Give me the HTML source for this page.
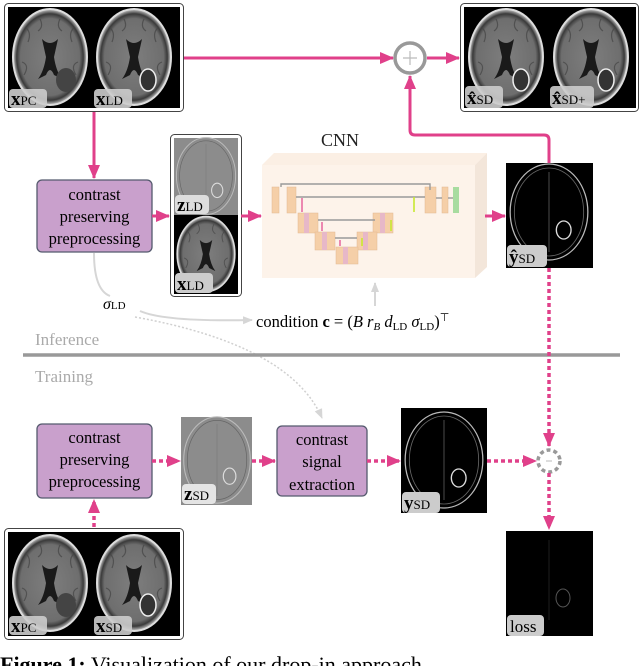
<!DOCTYPE html>
<html><head><meta charset="utf-8"><style>
html,body{margin:0;padding:0;background:#fff;width:640px;height:666px;overflow:hidden}
svg{display:block}
text{font-family:"Liberation Serif",serif}
</style></head><body>
<svg width="640" height="666" viewBox="0 0 640 666" xmlns="http://www.w3.org/2000/svg">
<defs>
<radialGradient id="bg" cx="50%" cy="50%" r="50%">
<stop offset="0" stop-color="#7e7e7e"/><stop offset="0.8" stop-color="#6e6e6e"/><stop offset="0.9" stop-color="#3a3a3a"/><stop offset="1" stop-color="#cfcfcf"/>
</radialGradient>
<g id="brain">
<ellipse cx="0" cy="0" rx="37" ry="48" fill="url(#bg)" stroke="#ddd" stroke-width="2"/>
<g stroke="#444" stroke-width="1.2" fill="none" opacity="0.7">
<path d="M-25,-30 Q-18,-25 -22,-15"/><path d="M25,-30 Q18,-25 22,-15"/><path d="M-28,5 Q-20,8 -26,18"/><path d="M28,5 Q20,8 26,18"/><path d="M-10,-38 Q-6,-30 -12,-26"/><path d="M10,-38 Q6,-30 12,-26"/>
</g>
<path d="M-8,-18 Q0,-10 8,-18 L4,0 Q6,14 12,22 L4,18 Q0,8 -4,18 L-12,22 Q-6,14 -4,0 Z" fill="#1a1a1a"/>
</g>
<g id="brainD">
<ellipse cx="0" cy="0" rx="37" ry="48" fill="none" stroke="#bbb" stroke-width="1.2"/>
<ellipse cx="0" cy="0" rx="33" ry="44" fill="none" stroke="#666" stroke-width="0.8"/>
<path d="M0,-40 L0,40" stroke="#777" stroke-width="0.6"/>
<ellipse cx="14" cy="18" rx="7" ry="9" fill="none" stroke="#ddd" stroke-width="1.3"/>
</g>
<marker id="ahp" markerWidth="14" markerHeight="12" refX="13" refY="6" orient="auto" markerUnits="userSpaceOnUse">
<path d="M0,0 L14,6 L0,12 Z" fill="#e0408a"/></marker>
<marker id="ahg" markerWidth="10" markerHeight="10" refX="9" refY="5" orient="auto" markerUnits="userSpaceOnUse">
<path d="M0,1 L10,5 L0,9 Z" fill="#d6d6d6"/></marker>
</defs>

<!-- top-left panel -->
<rect x="4.5" y="3.5" width="179" height="108" rx="4" fill="#fff" stroke="#444"/>
<rect x="8" y="7" width="172" height="101" fill="#000"/>
<use href="#brain" x="50" y="57"/>
<use href="#brain" x="134" y="57"/>
<ellipse cx="66" cy="80" rx="10" ry="12" fill="#444"/>
<ellipse cx="148" cy="80" rx="8" ry="11" fill="#333" stroke="#eee" stroke-width="1.5"/>
<rect x="9" y="89" width="38" height="19" rx="4" fill="#ccc" opacity="0.9"/>
<text x="11" y="105" font-size="19" font-weight="bold">x<tspan font-size="13" font-weight="normal">PC</tspan></text>
<rect x="94" y="89" width="38" height="19" rx="4" fill="#ccc" opacity="0.9"/>
<text x="96" y="105" font-size="19" font-weight="bold">x<tspan font-size="13" font-weight="normal">LD</tspan></text>

<!-- top-right panel -->
<rect x="460.5" y="3.5" width="178" height="108" rx="4" fill="#fff" stroke="#444"/>
<rect x="464" y="7" width="172" height="101" fill="#000"/>
<use href="#brain" x="506" y="57"/>
<use href="#brain" x="591" y="57"/>
<ellipse cx="521" cy="80" rx="8" ry="11" fill="#333" stroke="#eee" stroke-width="1.5"/>
<ellipse cx="606" cy="80" rx="8" ry="11" fill="#333" stroke="#eee" stroke-width="1.5"/>
<rect x="465" y="86" width="38" height="22" rx="4" fill="#ccc" opacity="0.9"/>
<text x="467" y="104" font-size="19" font-weight="bold">x̂<tspan font-size="13" font-weight="normal">SD</tspan></text>
<rect x="550" y="86" width="44" height="22" rx="4" fill="#ccc" opacity="0.9"/>
<text x="552" y="104" font-size="19" font-weight="bold">x̂<tspan font-size="13" font-weight="normal">SD+</tspan></text>

<!-- plus circle -->
<circle cx="410" cy="58" r="15" fill="#fff" stroke="#999" stroke-width="3.5"/>
<path d="M403,58 H417 M410,51 V65" stroke="#bbb" stroke-width="1.2"/>
<line x1="184" y1="58" x2="393" y2="58" stroke="#e0408a" stroke-width="3" marker-end="url(#ahp)"/>
<line x1="427" y1="58" x2="459" y2="58" stroke="#e0408a" stroke-width="3" marker-end="url(#ahp)"/>
<path d="M549,163 V140 Q549,135 544,135 H415 Q410,135 410,130 V76" fill="none" stroke="#e0408a" stroke-width="3" marker-end="url(#ahp)"/>
<line x1="94" y1="112" x2="94" y2="178" stroke="#e0408a" stroke-width="3" marker-end="url(#ahp)"/>

<!-- box1 -->
<rect x="37" y="180" width="115" height="72" rx="5" fill="#c9a0cc" stroke="#555a6e" stroke-width="1.3"/>
<text x="94.5" y="200" font-size="16.5" text-anchor="middle">contrast</text>
<text x="94.5" y="222" font-size="16.5" text-anchor="middle">preserving</text>
<text x="94.5" y="244" font-size="16.5" text-anchor="middle">preprocessing</text>
<line x1="152" y1="216" x2="169" y2="216" stroke="#e0408a" stroke-width="3" marker-end="url(#ahp)"/>

<!-- zLD/xLD -->
<rect x="170.5" y="134.5" width="71" height="162" rx="4" fill="#fff" stroke="#444"/>
<rect x="174" y="138" width="64" height="77" fill="#8c8c8c"/>
<g transform="translate(206,176) scale(0.8)"><use href="#brainD"/></g>
<rect x="174" y="215" width="64" height="79" fill="#000"/>
<g transform="translate(206,254) scale(0.78)"><use href="#brain"/></g>
<rect x="175" y="195" width="34" height="19" rx="4" fill="#ddd"/>
<text x="177" y="211" font-size="19" font-weight="bold">z<tspan font-size="13" font-weight="normal">LD</tspan></text>
<rect x="175" y="273" width="38" height="20" rx="4" fill="#ccc"/>
<text x="177" y="290" font-size="19" font-weight="bold">x<tspan font-size="13" font-weight="normal">LD</tspan></text>
<line x1="241" y1="216" x2="261" y2="216" stroke="#e0408a" stroke-width="3" marker-end="url(#ahp)"/>

<!-- CNN -->
<text x="340" y="146" font-size="18" text-anchor="middle" fill="#222">CNN</text>
<path d="M262,165 L274,153 L487,153 L475,165 Z" fill="#fbefe4"/>
<path d="M475,165 L487,153 L487,267 L475,278 Z" fill="#f3e6da"/>
<rect x="262" y="165" width="213" height="113" fill="#fdf3ea"/>
<g fill="#f5cfa8" stroke="#e3b892" stroke-width="0.5">
<rect x="272" y="187" width="7" height="26"/><rect x="287" y="187" width="9" height="26"/>
<rect x="425" y="187" width="11" height="26"/><rect x="442" y="187" width="6" height="26"/>
<rect x="298" y="213" width="20" height="20"/><rect x="373" y="213" width="20" height="20"/>
<rect x="315" y="232" width="20" height="18"/><rect x="357" y="232" width="20" height="18"/>
<rect x="336" y="247" width="22" height="17"/>
</g>
<g fill="#e7b8c8"><rect x="304" y="213" width="5" height="20"/><rect x="380" y="213" width="5" height="20"/><rect x="322" y="232" width="5" height="18"/><rect x="363" y="232" width="5" height="18"/><rect x="343" y="247" width="5" height="17"/></g>
<rect x="453" y="187" width="6" height="26" fill="#a8dca0"/>
<g stroke="#999" stroke-width="1.4" fill="none">
<path d="M281,187 V184 H430 V190"/><path d="M296,197 H425"/><path d="M318,220 H375"/><path d="M335,238 H357"/><path d="M448,198 H453"/><path d="M436,198 H442"/>
</g>
<g stroke="#e0408a" stroke-width="1.2"><path d="M302,198 V212"/><path d="M322,222 V231"/><path d="M340,240 V246"/></g>
<g stroke="#c8e830" stroke-width="1.6"><path d="M414,197 V212"/><path d="M391,220 V231"/><path d="M362,238 V246"/></g>
<line x1="485" y1="216" x2="505" y2="216" stroke="#e0408a" stroke-width="3" marker-end="url(#ahp)"/>

<!-- yhat SD -->
<rect x="506" y="163" width="87" height="105" fill="#000"/>
<g transform="translate(549,212) scale(1.05,1)"><use href="#brainD"/></g>
<rect x="507" y="245" width="40" height="22" rx="4" fill="#ccc"/>
<text x="509" y="263" font-size="19" font-weight="bold">ŷ<tspan font-size="13" font-weight="normal">SD</tspan></text>

<!-- sigma / condition -->
<path d="M94,253 Q94,290 110,296" fill="none" stroke="#d6d6d6" stroke-width="2"/>
<text x="103" y="309" font-size="16" font-style="italic">σ<tspan font-size="11" font-style="normal">LD</tspan></text>
<path d="M140,311 Q165,322 252,320" fill="none" stroke="#d6d6d6" stroke-width="2" marker-end="url(#ahg)"/>
<path d="M135,317 Q290,345 322,418" fill="none" stroke="#d0d0d0" stroke-width="1.5" stroke-dasharray="2,2" marker-end="url(#ahg)"/>
<text x="256" y="327" font-size="16.5">condition <tspan font-weight="bold">c</tspan> = (<tspan font-style="italic">B r<tspan font-size="11" dy="3">B</tspan><tspan dy="-3"> d</tspan></tspan><tspan font-size="11" dy="3">LD</tspan><tspan dy="-3" font-style="italic"> σ</tspan><tspan font-size="11" dy="3">LD</tspan><tspan dy="-3">)</tspan><tspan font-size="11" dy="-6">⊤</tspan></text>
<line x1="375" y1="306" x2="375" y2="283" stroke="#d6d6d6" stroke-width="2" marker-end="url(#ahg)"/>

<!-- divider -->
<text x="35" y="345" font-size="17" fill="#aaa">Inference</text>
<line x1="23" y1="355" x2="620" y2="355" stroke="#999" stroke-width="3.5"/>
<text x="35" y="382" font-size="17" fill="#aaa">Training</text>

<!-- training row -->
<line x1="549" y1="268" x2="549" y2="446" stroke="#e0408a" stroke-width="3.5" stroke-dasharray="4,3" marker-end="url(#ahp)"/>
<rect x="37" y="424" width="115" height="74" rx="5" fill="#c9a0cc" stroke="#555a6e" stroke-width="1.3"/>
<text x="94.5" y="443" font-size="16.5" text-anchor="middle">contrast</text>
<text x="94.5" y="465" font-size="16.5" text-anchor="middle">preserving</text>
<text x="94.5" y="487" font-size="16.5" text-anchor="middle">preprocessing</text>
<line x1="152" y1="461" x2="180" y2="461" stroke="#e0408a" stroke-width="3.5" stroke-dasharray="4,3" marker-end="url(#ahp)"/>
<rect x="181" y="417" width="71" height="88" fill="#8c8c8c"/>
<g transform="translate(217,460) scale(0.9)"><use href="#brainD"/></g>
<rect x="182" y="484" width="34" height="20" rx="4" fill="#e4e4e4"/>
<text x="184" y="500" font-size="19" font-weight="bold">z<tspan font-size="13" font-weight="normal">SD</tspan></text>
<line x1="252" y1="461" x2="275" y2="461" stroke="#e0408a" stroke-width="3.5" stroke-dasharray="4,3" marker-end="url(#ahp)"/>
<rect x="277" y="426" width="90" height="70" rx="5" fill="#c9a0cc" stroke="#555a6e" stroke-width="1.3"/>
<text x="322" y="445" font-size="16.5" text-anchor="middle">contrast</text>
<text x="322" y="467" font-size="16.5" text-anchor="middle">signal</text>
<text x="322" y="490" font-size="16.5" text-anchor="middle">extraction</text>
<line x1="367" y1="461" x2="400" y2="461" stroke="#e0408a" stroke-width="3.5" stroke-dasharray="4,3" marker-end="url(#ahp)"/>
<rect x="401" y="408" width="86" height="105" fill="#000"/>
<g transform="translate(444,460) scale(1.05,1)"><use href="#brainD"/></g>
<rect x="402" y="492" width="38" height="21" rx="4" fill="#ccc"/>
<text x="404" y="509" font-size="19" font-weight="bold">y<tspan font-size="13" font-weight="normal">SD</tspan></text>
<line x1="487" y1="461" x2="536" y2="461" stroke="#e0408a" stroke-width="3.5" stroke-dasharray="4,3" marker-end="url(#ahp)"/>
<circle cx="549" cy="461" r="11" fill="#fff" stroke="#999" stroke-width="3.5" stroke-dasharray="4,3"/>
<line x1="546" y1="461" x2="552" y2="461" stroke="#bbb"/>
<line x1="549" y1="473" x2="549" y2="529" stroke="#e0408a" stroke-width="3.5" stroke-dasharray="4,3" marker-end="url(#ahp)"/>
<rect x="506" y="531" width="87" height="105" fill="#000"/>
<g opacity="0.5" transform="translate(549,580)"><path d="M0,-40 V40" stroke="#666" stroke-width="0.6"/><ellipse cx="14" cy="18" rx="7" ry="9" fill="none" stroke="#aaa"/></g>
<rect x="507" y="615" width="37" height="21" rx="4" fill="#ccc"/>
<text x="510" y="632" font-size="17">loss</text>

<!-- bottom-left panel -->
<line x1="94" y1="527" x2="94" y2="500" stroke="#e0408a" stroke-width="3.5" stroke-dasharray="4,3" marker-end="url(#ahp)"/>
<rect x="4.5" y="528.5" width="179" height="111" rx="4" fill="#fff" stroke="#444"/>
<rect x="8" y="532" width="172" height="104" fill="#000"/>
<use href="#brain" x="50" y="583"/>
<use href="#brain" x="134" y="583"/>
<ellipse cx="66" cy="605" rx="10" ry="12" fill="#444"/>
<ellipse cx="148" cy="605" rx="8" ry="11" fill="#333" stroke="#eee" stroke-width="1.5"/>
<rect x="9" y="616" width="38" height="19" rx="4" fill="#ccc" opacity="0.9"/>
<text x="11" y="632" font-size="19" font-weight="bold">x<tspan font-size="13" font-weight="normal">PC</tspan></text>
<rect x="94" y="616" width="38" height="19" rx="4" fill="#ccc" opacity="0.9"/>
<text x="96" y="632" font-size="19" font-weight="bold">x<tspan font-size="13" font-weight="normal">SD</tspan></text>

<!-- caption (clipped) -->
<text x="0" y="672" font-size="22" fill="#000"><tspan font-weight="bold">Figure 1:</tspan> Visualization of our drop-in approach</text>
</svg>
</body></html>
